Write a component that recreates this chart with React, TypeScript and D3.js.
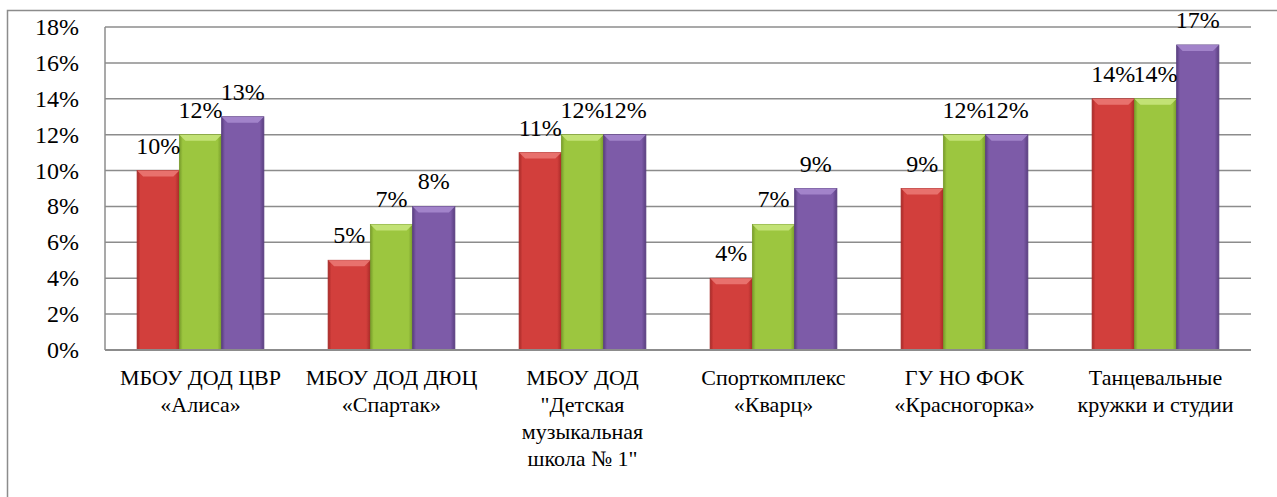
import * as d3 from 'd3';

const categories = [
  'МБОУ ДОД ЦВР\n«Алиса»',
  'МБОУ ДОД ДЮЦ\n«Спартак»',
  'МБОУ ДОД\n"Детская\nмузыкальная\nшкола № 1"',
  'Спорткомплекс\n«Кварц»',
  'ГУ НО ФОК\n«Красногорка»',
  'Танцевальные\nкружки и студии',
];
const seriesNames = ['Ряд 1', 'Ряд 2', 'Ряд 3'];
const series1 = [0.1, 0.05, 0.11, 0.04, 0.09, 0.14];
const series2 = [0.12, 0.07, 0.12, 0.07, 0.12, 0.14];
const series3 = [0.13, 0.08, 0.12, 0.09, 0.12, 0.17];
const yTicks = [0, 0.02, 0.04, 0.06, 0.08, 0.1, 0.12, 0.14, 0.16, 0.18];

const colors = [
  { base: '#d23f3c', dark: '#a82a28', light: '#ec7a76' },
  { base: '#9cc63f', dark: '#779b2a', light: '#c9e67f' },
  { base: '#7d5ba8', dark: '#5a3f80', light: '#a88bd0' },
];

const width = 1277;
const height = 497;
const plot = { left: 105, right: 1251, top: 27, bottom: 350 };
const FONT = 'Liberation Serif';

export default function App() {
  const values = [series1, series2, series3];

  const y = d3.scaleLinear().domain([0, 0.18]).range([plot.bottom, plot.top]);
  const x0 = d3.scaleBand<number>()
    .domain(d3.range(categories.length))
    .range([plot.left, plot.right]);
  const x1 = d3.scaleBand<number>()
    .domain(d3.range(seriesNames.length))
    .range([0, x0.bandwidth()])
    .paddingInner(0)
    .paddingOuter(0.76);
  const bw = x1.bandwidth();
  const pct = (d: number) => `${Math.round(d * 100)}%`;
  const bevel = 6;
  const tstyle = { fontFamily: FONT };

  return (
    <svg
      width={width}
      height={height}
      style={{ position: 'absolute', left: 0, top: 0, background: '#fff' }}
    >
      <style>{`text, tspan { font-family: 'Liberation Serif', serif; }`}</style>
      <defs>
        {colors.map((c, i) => (
          <linearGradient key={i} id={`bar-grad-${i}`} x1="0" x2="1" y1="0" y2="0">
            <stop offset="0" stopColor={c.dark} />
            <stop offset="0.08" stopColor={c.base} />
            <stop offset="0.9" stopColor={c.base} />
            <stop offset="1" stopColor={c.dark} />
          </linearGradient>
        ))}
      </defs>

      {/* outer border */}
      <rect x={7.5} y={10.5} width={1300} height={520} fill="none" stroke="#8c8c8c" strokeWidth={1.5} />

      {/* gridlines */}
      {yTicks.filter(d => d > 0).map(d => (
        <line key={d} x1={plot.left} x2={plot.right} y1={y(d)} y2={y(d)} stroke="#8c8c8c" strokeWidth={1.5} />
      ))}
      <line x1={plot.left} x2={plot.left} y1={plot.top} y2={plot.bottom} stroke="#8c8c8c" strokeWidth={1.5} />

      {/* y tick labels */}
      {yTicks.map(d => (
        <text key={d} x={79} y={y(d) + 8} textAnchor="end" fontFamily={FONT} fontSize={24} style={tstyle}>
          {pct(d)}
        </text>
      ))}

      {/* bars */}
      {values.map((vals, s) => (
        <g key={s}>
          {vals.map((v, i) => {
            const bx = x0(i)! + x1(s)!;
            const top = y(v);
            return (
              <g key={i}>
                <rect x={bx} y={top} width={bw} height={y(0) - top}
                  fill={`url(#bar-grad-${s})`} stroke={colors[s].dark} strokeWidth={0.8} />
                <path
                  d={`M${bx},${top}L${bx + bw},${top}L${bx + bw - bevel},${top + bevel}L${bx + bevel},${top + bevel}Z`}
                  fill={colors[s].light} opacity={0.85} />
              </g>
            );
          })}
        </g>
      ))}

      <line x1={plot.left} x2={plot.right} y1={plot.bottom} y2={plot.bottom} stroke="#8c8c8c" strokeWidth={2} />

      {/* data labels */}
      {values.map((vals, s) => vals.map((v, i) => (
        <text key={`${s}-${i}`} x={x0(i)! + x1(s)! + bw / 2} y={y(v) - 17}
          textAnchor="middle" fontFamily={FONT} fontSize={24} style={tstyle}>
          {pct(v)}
        </text>
      )))}

      {/* category labels */}
      {categories.map((c, i) => c.split('\n').map((line, k) => (
        <text key={`${i}-${k}`} x={x0(i)! + x0.bandwidth() / 2} y={385 + k * 27}
          textAnchor="middle" fontFamily={FONT} fontSize={22} style={tstyle}>
          {line}
        </text>
      )))}
    </svg>
  );
}
